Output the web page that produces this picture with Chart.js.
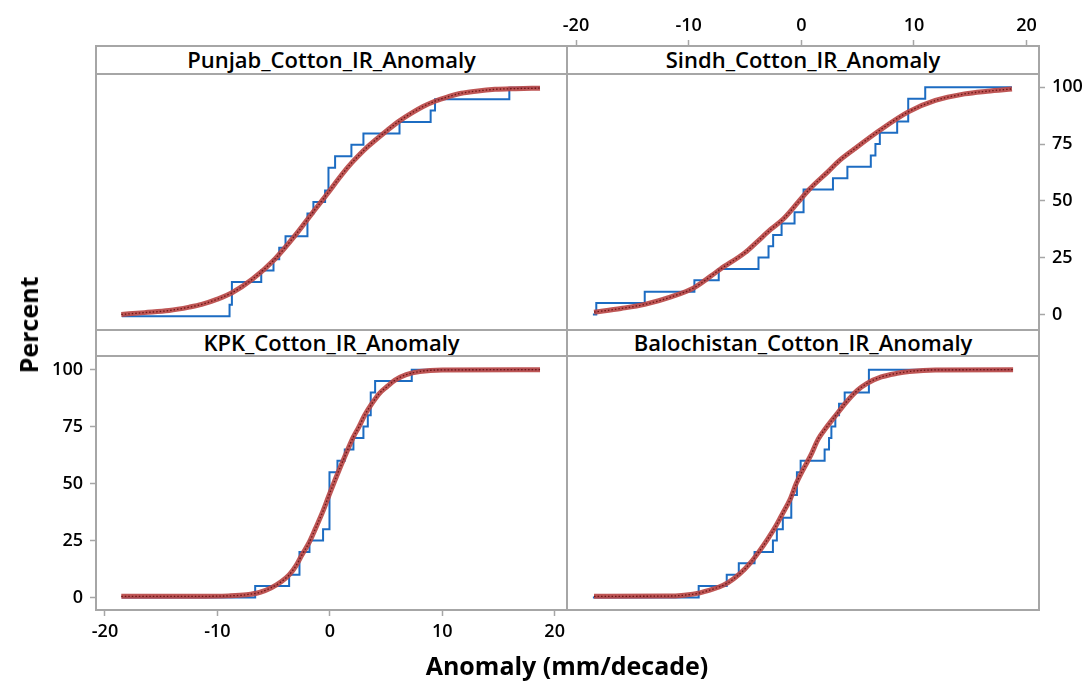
<!DOCTYPE html>
<html>
<head>
<meta charset="utf-8">
<script src="https://cdn.jsdelivr.net/npm/chart.js@4.4.1/dist/chart.umd.min.js"></script>
<style>
  html, body { margin: 0; padding: 0; background: #fff; }
  #fig { position: relative; width: 1088px; height: 681px; overflow: hidden;
         font-family: 'Open Sans', 'Noto Sans', sans-serif; color: #000; }
  #fig canvas { position: absolute; }
  .ln { position: absolute; background: #a6a6a6; }
  .strip { position: absolute; background: #fff; text-align: center; overflow: hidden;
           font-weight: 600; font-size: 22px; line-height: 25px; color: #000; }
  .axt { position: absolute; font-weight: 700; font-size: 25px; white-space: nowrap; }
</style>
</head>
<body>
<div id="fig">
  <canvas id="tl" width="471" height="256" style="left:96px;top:74px"></canvas>
  <canvas id="tr" width="548" height="350" style="left:540px;top:0px"></canvas>
  <canvas id="bl" width="587" height="351" style="left:0px;top:330px"></canvas>
  <canvas id="br" width="472" height="254" style="left:567px;top:356px"></canvas>

  <div class="strip" id="s0" style="left:97px;top:47px;width:469px;height:26px"></div>
  <div class="strip" id="s1" style="left:568px;top:47px;width:470px;height:26px"></div>
  <div class="strip" id="s2" style="left:97px;top:331px;width:469px;height:24px;line-height:22px"></div>
  <div class="strip" id="s3" style="left:568px;top:331px;width:470px;height:24px;line-height:22px"></div>

  <div class="ln" style="left:95px;top:45px;width:945px;height:2px"></div>
  <div class="ln" style="left:95px;top:73px;width:945px;height:2px"></div>
  <div class="ln" style="left:95px;top:329px;width:945px;height:2px"></div>
  <div class="ln" style="left:95px;top:355px;width:945px;height:2px"></div>
  <div class="ln" style="left:95px;top:609px;width:945px;height:2px"></div>
  <div class="ln" style="left:95px;top:45px;width:2px;height:566px"></div>
  <div class="ln" style="left:566px;top:45px;width:2px;height:566px"></div>
  <div class="ln" style="left:1038px;top:45px;width:2px;height:566px"></div>

  <div class="axt" id="ylab" style="left:28px;top:325px;transform:translate(-50%,-50%) rotate(-90deg)"></div>
  <div class="axt" id="xlab" style="left:567px;top:665px;transform:translate(-50%,-50%)"></div>
</div>
<script>
// ----- 데이터 -----
const panelTitles = ['Punjab_Cotton_IR_Anomaly', 'Sindh_Cotton_IR_Anomaly',
                     'KPK_Cotton_IR_Anomaly', 'Balochistan_Cotton_IR_Anomaly'];
const xTitle = 'Anomaly (mm/decade)';
const yTitle = 'Percent';
const xTicks = [-20, -10, 0, 10, 20];
const xTickLabels = ['-20', '-10', '0', '10', '20'];
const yTicks = [0, 25, 50, 75, 100];
const yTickLabels = ['0', '25', '50', '75', '100'];

// empirical CDF (step) points
const punjabStepX = [-18.5, -8.92, -8.71, -6.1, -5.01, -4.5, -3.94, -1.99, -1.46, -0.42, -0.12, 0.47, 1.92, 2.99, 6.2, 8.97, 9.36, 15.97, 18.7];
const punjabStepY = [0, 5, 15, 20, 25, 30, 35, 45, 50, 55, 65, 70, 75, 80, 85, 90, 95, 100, 100];
const sindhStepX = [-18.5, -18.2, -13.9, -9.49, -7.33, -3.8, -2.91, -2.5, -1.75, -0.6, 0.2, 2.81, 4.09, 6.17, 6.58, 6.97, 8.51, 9.49, 11.0, 18.7];
const sindhStepY = [0, 5, 10, 15, 20, 25, 30, 35, 40, 45, 55, 60, 65, 70, 75, 80, 85, 95, 100, 100];
const kpkStepX = [-18.5, -6.64, -3.62, -2.7, -1.81, -0.6, -0.03, 0.68, 1.33, 2.1, 2.99, 3.38, 3.64, 4.03, 7.29, 18.7];
const kpkStepY = [0, 5, 10, 20, 25, 30, 55, 60, 65, 70, 75, 80, 90, 95, 100, 100];
const balochStepX = [-18.5, -9.11, -6.62, -5.55, -4.15, -2.52, -2.17, -1.64, -0.89, -0.39, -0.06, 2.07, 2.46, 2.67, 3.02, 3.35, 3.85, 6.0, 18.7];
const balochStepY = [0, 5, 10, 15, 20, 25, 30, 35, 45, 55, 60, 65, 70, 75, 80, 85, 90, 100, 100];

// fitted curve
const punjabFitX = [-18.55, -16.5, -14.3, -12.5, -11.4, -10.0, -8.7, -6.9, -4.9, -3.1, -1.6, -0.1, 0.8, 1.65, 2.5, 3.4, 5.2, 6.2, 7.3, 8.3, 9.4, 10.5, 11.7, 13.0, 14.7, 16.5, 18.7];
const punjabFitY = [0.8, 1.6, 2.5, 4.0, 5.2, 7.5, 10.3, 16.2, 25.0, 35.3, 44.9, 54.4, 60.3, 65.5, 70.0, 74.3, 81.7, 85.5, 89.0, 91.8, 94.2, 96.0, 97.6, 98.5, 99.3, 99.6, 99.8];
const sindhFitX = [-18.4, -16.0, -13.9, -11.5, -9.5, -7.2, -5.0, -4.0, -2.7, -1.6, -0.3, 0.7, 2.4, 3.4, 4.7, 7.0, 9.5, 11.9, 14.5, 16.5, 18.7];
const sindhFitY = [1.0, 2.6, 4.4, 7.8, 11.8, 19.9, 27.2, 31.6, 37.5, 42.0, 49.3, 55.0, 63.0, 67.8, 72.8, 81.2, 89.2, 94.2, 97.1, 98.3, 99.3];
const kpkFitX = [-18.55, -12.0, -9.0, -7.4, -6.2, -5.2, -4.3, -3.6, -3.0, -2.5, -1.8, -1.3, -0.6, -0.1, 0.5, 1.0, 1.6, 2.1, 2.6, 3.1, 3.8, 4.4, 5.1, 5.8, 6.8, 8.0, 10.0, 18.7];
const kpkFitY = [0.5, 0.5, 0.7, 1.2, 2.3, 4.3, 7.0, 10.0, 14.0, 18.5, 24.5, 30.0, 38.0, 44.5, 52.0, 58.0, 65.0, 70.5, 75.0, 80.0, 85.5, 89.5, 92.6, 95.4, 97.8, 99.2, 99.9, 100];
const balochFitX = [-18.4, -12.0, -10.4, -9.0, -8.3, -7.3, -6.5, -5.5, -4.5, -3.8, -3.0, -2.3, -1.7, -1.0, -0.45, 0.2, 0.8, 1.5, 2.2, 3.1, 4.0, 5.0, 5.8, 7.1, 8.5, 9.6, 11.9, 18.8];
const balochFitY = [0.5, 0.6, 1.0, 2.0, 3.0, 4.6, 6.5, 10.2, 15.3, 19.8, 25.5, 31.0, 36.5, 43.0, 50.0, 56.5, 62.0, 69.5, 74.5, 80.2, 85.8, 91.0, 93.9, 96.8, 98.4, 99.2, 99.9, 100];

// ----- 텍스트 -----
panelTitles.forEach((t, i) => { document.getElementById('s' + i).textContent = t; });
document.getElementById('xlab').textContent = xTitle;
document.getElementById('ylab').textContent = yTitle;

Chart.defaults.font.family = "'Open Sans', 'Noto Sans', sans-serif";
Chart.defaults.font.size = 18;
Chart.defaults.font.weight = 600;
Chart.defaults.color = '#000';

const pts = (xs, ys) => xs.map((x, i) => ({x, y: ys[i]}));
const tickGrid = { display: true, drawOnChartArea: false, drawTicks: true, tickLength: 6,
                   tickColor: '#a6a6a6', tickWidth: 1.5 };

function xScale(show, position, height, pad = 5){
  return {
    type: 'linear', min: -20.8, max: 21.1, display: show, position,
    afterBuildTicks: s => { s.ticks = xTicks.map(v => ({value: v})); },
    afterFit: s => { if (height) s.height = height; },
    ticks: { padding: pad, maxRotation: 0, autoSkip: false, callback: (v, i) => xTickLabels[i] },
    grid: tickGrid, border: { display: false }
  };
}
function yScale(show, position, width, min, max){
  return {
    type: 'linear', min, max, display: show, position,
    afterBuildTicks: s => { s.ticks = yTicks.map(v => ({value: v})); },
    afterFit: s => { if (width) s.width = width; },
    ticks: { padding: 7, autoSkip: false, callback: (v, i) => yTickLabels[i] },
    grid: tickGrid, border: { display: false }
  };
}

function makePanel(id, stepX, stepY, fitX, fitY, scales, padding){
  return new Chart(document.getElementById(id), {
    type: 'line',
    data: { datasets: [
      { data: pts(fitX, fitY), borderColor: '#6e1616', borderWidth: 1.3, borderDash: [1.5, 2],
        pointRadius: 0, cubicInterpolationMode: 'monotone' },
      { data: pts(fitX, fitY), borderColor: 'rgba(184,72,70,0.92)', borderWidth: 5,
        pointRadius: 0, cubicInterpolationMode: 'monotone' },
      { data: pts(stepX, stepY), borderColor: '#1c6cc2', borderWidth: 2,
        pointRadius: 0, stepped: true }
    ]},
    options: {
      responsive: false, animation: false, events: [],
      layout: { padding },
      scales,
      plugins: { legend: { display: false }, tooltip: { enabled: false } }
    }
  });
}

// top-left: no axes
makePanel('tl', punjabStepX, punjabStepY, punjabFitX, punjabFitY,
  { x: xScale(false), y: yScale(false, 'left', 0, -6, 106) }, 0);
// top-right: x ticks on top, y ticks on right (plot area extends under strip)
makePanel('tr', sindhStepX, sindhStepY, sindhFitX, sindhFitY,
  { x: xScale(true, 'top', 46, 3), y: yScale(true, 'right', 49, -6, 118.2) },
  { left: 27, bottom: 22, top: 0, right: 0 });
// bottom-left: x ticks bottom, y ticks left
makePanel('bl', kpkStepX, kpkStepY, kpkFitX, kpkFitY,
  { x: xScale(true, 'bottom', 71), y: yScale(true, 'left', 96, -5.5, 106) },
  { left: 0, bottom: 0, top: 26, right: 20 });
// bottom-right: no axes
makePanel('br', balochStepX, balochStepY, balochFitX, balochFitY,
  { x: xScale(false), y: yScale(false, 'left', 0, -5.5, 106) }, 0);
</script>
</body>
</html>
